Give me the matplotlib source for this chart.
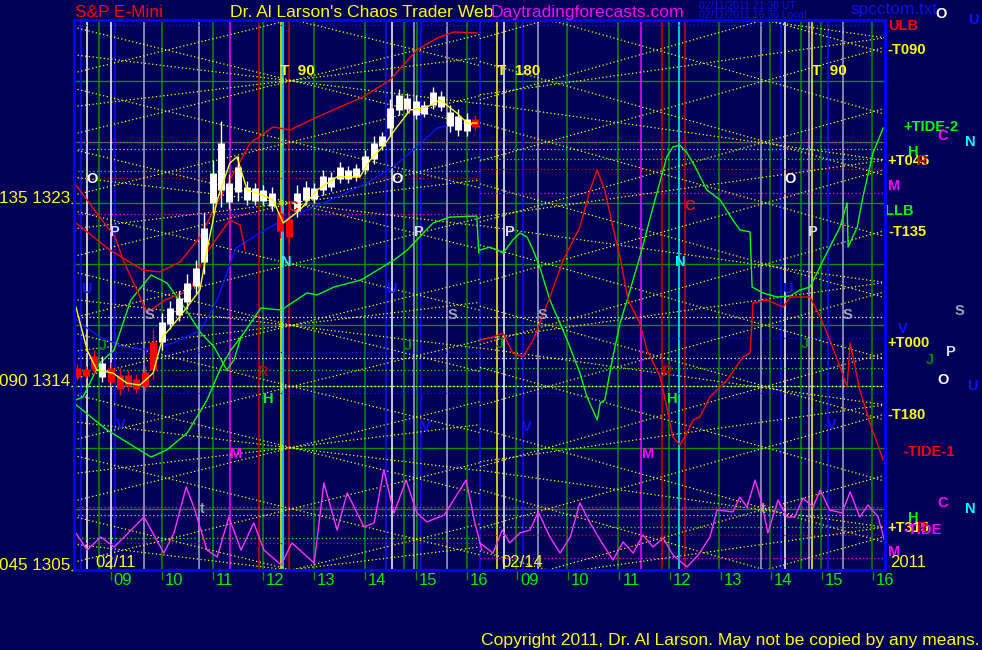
import matplotlib
matplotlib.use("Agg")
import matplotlib.pyplot as plt
from matplotlib.transforms import ScaledTranslation

BG = '#000058'
NARROW = ['Liberation Sans Narrow', 'Liberation Sans', 'DejaVu Sans']
REG = ['Liberation Sans', 'DejaVu Sans']

# time axis: hours from 09:00 on 02/11 (second session starts at 8 = 09:00 02/14)
day_start = [-0.73, 7.26]
day_end = [7.26, 15.24]
hour_ticks = list(range(16))
hour_labels = ['09', '10', '11', '12', '13', '14', '15', '16',
               '09', '10', '11', '12', '13', '14', '15', '16']
price_ticks = [1305, 1314, 1323]
price_labels = ['045 1305', '090 1314', '135 1323']

# 10 minute price bars, session of 02/11
bar_t = [-0.67, -0.50, -0.33, -0.17, 0.00, 0.17, 0.33, 0.50, 0.67, 0.83,
         1.00, 1.17, 1.33, 1.50, 1.67, 1.83, 2.00, 2.17, 2.33, 2.50,
         2.67, 2.83, 3.00, 3.17, 3.33, 3.50, 3.67, 3.83, 4.00, 4.17,
         4.33, 4.50, 4.67, 4.83, 5.00, 5.17, 5.33, 5.50, 5.67, 5.83,
         6.00, 6.17, 6.33, 6.50, 6.67, 6.83, 7.00, 7.17]
bar_hi = [1315.1, 1315.0, 1315.8, 1315.5, 1315.2, 1314.9, 1314.8, 1314.6, 1315.0, 1316.8,
          1317.6, 1318.2, 1318.7, 1319.5, 1320.2, 1322.5, 1325.1, 1327.0, 1324.4, 1325.3,
          1324.1, 1324.0, 1323.9, 1323.8, 1322.9, 1322.6, 1323.9, 1324.1, 1324.0, 1324.6,
          1324.5, 1325.0, 1324.8, 1324.9, 1325.6, 1326.3, 1326.5, 1328.1, 1328.6, 1328.4,
          1328.3, 1328.0, 1328.7, 1328.5, 1327.8, 1327.6, 1327.4, 1327.3]
bar_lo = [1314.3, 1314.4, 1314.6, 1314.2, 1314.0, 1313.6, 1313.8, 1313.7, 1313.8, 1314.3,
          1315.8, 1316.8, 1317.2, 1317.8, 1318.6, 1319.5, 1322.5, 1322.8, 1322.7, 1323.1,
          1322.9, 1322.9, 1322.9, 1322.6, 1321.3, 1321.0, 1322.3, 1322.9, 1323.0, 1323.4,
          1323.6, 1324.0, 1324.0, 1324.1, 1324.4, 1324.9, 1325.6, 1326.3, 1327.3, 1327.4,
          1327.1, 1327.2, 1327.6, 1327.5, 1326.5, 1326.3, 1326.3, 1326.6]
bar_up = [False, False, False, True, False, False, False, False, False, False,
          True, True, True, True, True, True, True, True, True, True,
          True, True, True, True, False, False, True, True, True, True,
          True, True, True, True, True, True, True, True, True, True,
          True, True, True, True, True, True, True, False]

# flux / tide curves
red1_t = [-0.69, -0.02, 0.63, 0.96, 1.36, 1.75, 2.09, 2.74, 3.19, 3.52, 4.06, 4.96,
          5.49, 6.02, 6.42, 6.75, 7.20]
red1_p = [1322.02, 1320.69, 1319.71, 1319.62, 1320.11, 1321.33, 1323.00, 1325.94, 1326.73,
          1326.58, 1327.22, 1328.20, 1329.03, 1330.50, 1331.09, 1331.39, 1331.34]
red2_t = [-0.69, -0.22, 0.08, 0.24, 0.51, 0.71, 1.06, 1.56, 1.85, 2.34, 2.54, 2.64]
red2_p = [1323.88, 1322.31, 1321.33, 1320.20, 1318.73, 1317.61, 1318.24, 1318.73, 1320.45,
          1322.17, 1321.92, 1320.69]
red3_t = [7.26, 7.52, 7.72, 7.91, 8.11, 8.31, 8.44, 8.64, 8.90, 9.23, 9.43, 9.57, 9.72,
          9.88, 10.02, 10.18, 10.28, 10.41, 10.55, 10.81, 10.94, 11.06, 11.20, 11.34, 11.46,
          11.59, 11.79, 12.13, 12.44, 12.58, 12.64, 12.91, 13.23, 13.37, 13.76, 13.96, 14.15,
          14.35, 14.49, 14.55, 14.74, 14.94, 15.20]
red3_p = [1316.28, 1316.43, 1316.62, 1315.64, 1315.45, 1316.28, 1317.11, 1318.39, 1320.20,
          1321.82, 1323.64, 1324.62, 1323.64, 1321.82, 1320.35, 1318.24, 1317.75, 1317.11,
          1315.79, 1314.47, 1313.00, 1311.52, 1311.13, 1311.72, 1312.36, 1312.50, 1313.49,
          1314.32, 1315.45, 1315.64, 1318.10, 1318.24, 1317.90, 1318.39, 1318.39, 1317.41,
          1316.28, 1314.96, 1313.98, 1316.13, 1313.83, 1312.21, 1310.40]

green1_t = [-0.69, -0.55, -0.22, 0.06, 0.39, 0.79, 1.10, 1.44, 1.77, 2.03, 2.28, 2.42, 2.56,
            2.95, 3.35, 3.86, 4.06, 4.39, 4.92, 5.31, 5.57, 5.83, 6.02, 6.34, 6.67, 7.20, 7.24]
green1_p = [1313.34, 1313.49, 1315.15, 1315.79, 1318.24, 1319.47, 1319.08, 1317.90, 1316.62,
            1315.94, 1314.81, 1315.30, 1316.43, 1317.85, 1317.75, 1318.59, 1318.49, 1318.88,
            1319.22, 1319.81, 1320.20, 1320.69, 1321.19, 1322.02, 1322.31, 1322.36, 1320.55]
green2_t = [-0.73, -0.08, 0.79, 1.10, 1.50, 1.89, 2.17, 2.36, 2.56]
green2_p = [1313.19, 1311.87, 1310.54, 1310.89, 1311.72, 1313.34, 1314.96, 1315.79, 1316.43]
green3_t = [7.26, 7.46, 7.72, 7.91, 8.05, 8.19, 8.31, 8.44, 8.64, 8.98, 9.23, 9.37, 9.57,
            9.63, 9.72, 9.88, 10.02, 10.16, 10.41, 10.67, 10.94, 11.06, 11.20, 11.34, 11.50,
            11.73, 11.99, 12.24, 12.38, 12.58, 12.62, 12.83, 13.11, 13.37, 13.56, 13.76, 14.09,
            14.35, 14.49, 14.51, 14.69, 14.80, 15.00, 15.20]
green3_p = [1320.69, 1320.84, 1320.55, 1321.19, 1321.53, 1321.33, 1320.69, 1319.86, 1318.24,
            1316.28, 1314.66, 1313.49, 1312.36, 1313.19, 1313.34, 1315.45, 1317.11, 1318.24,
            1320.35, 1322.80, 1325.26, 1325.75, 1325.84, 1325.45, 1324.77, 1323.64, 1323.15,
            1322.17, 1321.68, 1321.58, 1318.88, 1318.59, 1318.39, 1318.44, 1318.73, 1318.88,
            1320.55, 1321.82, 1323.00, 1320.84, 1321.82, 1323.29, 1325.45, 1326.68]

blue_t = [-0.69, -0.22, 0.24, 0.71, 1.22, 1.77, 2.09, 2.30, 2.46, 2.93, 3.39, 3.86, 4.45,
          5.04, 5.55, 6.02, 6.42, 6.81, 7.26]
blue_p = [1317.26, 1316.43, 1315.94, 1315.79, 1316.13, 1316.77, 1318.24, 1319.71, 1320.79,
          1321.53, 1322.17, 1322.66, 1323.29, 1323.98, 1324.77, 1325.75, 1326.68, 1326.92,
          1326.92]

yellow_t = [-0.69, -0.47, -0.28, 0.04, 0.31, 0.57, 0.83, 1.02, 1.30, 1.50, 1.75, 1.89, 2.09,
            2.34, 2.48, 2.68, 2.87, 3.19, 3.39, 3.72, 4.06, 4.45, 4.90, 5.10, 5.35, 5.63,
            5.89, 6.22, 6.48, 6.81, 7.01, 7.20]
yellow_p = [1317.90, 1315.79, 1314.81, 1314.66, 1314.17, 1314.07, 1314.66, 1316.43, 1317.26,
            1317.90, 1318.73, 1320.69, 1323.15, 1324.96, 1325.26, 1323.64, 1323.49, 1323.15,
            1322.02, 1322.66, 1323.64, 1324.28, 1324.28, 1325.11, 1325.75, 1326.73, 1327.56,
            1327.71, 1328.05, 1327.41, 1326.92, 1326.92]

mag1_t = [-0.73, -0.47, -0.20, 0.06, 0.26, 0.65, 1.04, 1.24, 1.48, 1.63, 1.89, 2.09, 2.32,
          2.56, 2.81, 3.01, 3.35, 3.56, 4.00, 4.19, 4.45, 4.65, 4.98, 5.18, 5.37, 5.57, 5.81,
          6.02, 6.22, 6.56, 6.99, 7.15, 7.30]
mag1_p = [1306.96, 1305.98, 1306.62, 1306.13, 1306.62, 1307.60, 1305.83, 1306.82, 1309.07,
          1308.09, 1305.98, 1305.64, 1307.60, 1305.98, 1307.31, 1305.98, 1305.25, 1306.33,
          1305.34, 1309.27, 1306.96, 1308.78, 1307.11, 1307.31, 1309.91, 1307.80, 1309.41,
          1307.80, 1307.36, 1307.70, 1309.41, 1307.45, 1305.98]
mag2_t = [7.26, 7.52, 7.70, 7.85, 8.05, 8.25, 8.41, 8.64, 8.84, 9.04, 9.23, 9.43, 9.63, 9.88,
          10.08, 10.28, 10.47, 10.67, 10.87, 11.06, 11.34, 11.56, 11.79, 11.93, 12.24, 12.38,
          12.52, 12.68, 12.81, 12.93, 13.13, 13.31, 13.46, 13.62, 13.82, 13.96, 14.15, 14.39,
          14.55, 14.74, 14.90, 15.10, 15.24]
mag2_p = [1306.33, 1305.83, 1306.96, 1306.33, 1306.82, 1306.96, 1307.85, 1306.62, 1305.83,
          1306.62, 1308.29, 1307.31, 1306.47, 1305.49, 1306.37, 1305.83, 1306.72, 1306.13,
          1306.57, 1305.74, 1305.15, 1305.74, 1306.62, 1307.94, 1307.85, 1308.58, 1308.09,
          1309.41, 1308.29, 1306.82, 1308.43, 1307.60, 1307.60, 1308.53, 1308.09, 1308.92,
          1307.94, 1307.80, 1308.83, 1307.60, 1308.19, 1307.60, 1306.33]

# vertical time lines
vl_t = [-0.59, -0.47, -0.24, 0.00, 0.08, 0.65, 1.00, 1.73, 2.00, 2.34, 2.91, 3.00, 3.35,
        3.39, 3.50, 4.00, 5.00, 5.41, 5.53, 5.77, 5.96, 6.02, 6.10, 6.61, 7.00, 7.26,
        7.60, 7.74, 7.97, 8.11, 8.41, 8.98, 9.98, 10.43, 10.85, 10.98, 11.18, 11.30, 11.97,
        12.80, 12.97, 13.19, 13.27, 13.58, 13.74, 13.80, 13.98, 14.11, 14.41, 14.98]
vl_c = ['b', 'w', 'g', 'w', 'b', 's', 'g', 's', 'g', 'm', 'r', 'g', 'y',
        'c', 'r', 'g', 'g', 'b', 'w', 'g', 's', 'g', 'b', 's', 'g', 'b',
        'y', 'w', 'g', 'b', 's', 'g', 'g', 'm', 'r', 'g', 'c', 'r', 'g',
        's', 'g', 'b', 'w', 'g', 's', 'y', 'g', 'b', 's', 'g']

# solid price grid and dotted levels
grid_p = [1308, 1311, 1314, 1317, 1320, 1323, 1326, 1329]
hl_p = [1331.75, 1331.95, 1326.00, 1325.65, 1324.55, 1324.25, 1322.46, 1325.15, 1324.67,
        1323.50, 1317.40, 1315.70, 1316.40, 1315.40, 1314.80, 1314.90, 1314.00, 1313.70,
        1308.07, 1307.68, 1306.55, 1306.30, 1307.10, 1306.70, 1305.60]
hl_c = ['b', 'w', 'm', 'c', 'l', 'r', 'm', 'l', 'r',
        'm', 'w', 'b', 'b', 'w', 'l', 'l', 'w', 'b',
        'm', 'c', 'l', 'r', 'l', 'r', 'm']
hl_day = [0, 2, 0, 0, 1, 1, 1, 2, 2, 2, 0, 1, 2, 0, 1, 2, 0, 0, 0, 0, 1, 1, 2, 2, 2]

# time-wave lattice: crossing levels, crossing time and slope (points / hour)
latA1_nodes = [1300.5, 1303.5, 1306.5, 1309.5, 1312.5, 1315.5, 1318.5, 1321.5, 1324.5,
               1327.5, 1330.5, 1333.5, 1336.5]
latB1_nodes = [1299.0, 1305.0, 1311.0, 1317.0, 1323.0, 1329.0, 1335.0]
latA2_nodes = [1299.0, 1302.0, 1305.0, 1308.0, 1311.0, 1314.0, 1317.0, 1320.0, 1323.0,
               1326.0, 1329.0, 1332.0, 1335.0, 1338.0]
latB2_nodes = [1301.1, 1307.1, 1313.1, 1319.1, 1325.1, 1331.1, 1337.1]
lat_node_t = [1.1, 3.5, 8.6, 15.24]
lat_slope = [0.61, 0.30, 0.70, 0.35]

# planet / event letters inside the chart
lab_t = [-0.37, 5.63, 13.37, 0.08, 6.06, 7.85, 13.82, 0.75, 6.73, 8.50, 14.50,
         -0.16, 5.85, 7.66, 13.66, -0.49, 5.51, 13.31, 0.20, 6.20, 8.19, 14.19,
         3.46, 11.20, 3.58, 11.40, 3.00, 10.94, 3.09, 11.04, 2.46, 10.57, 1.79, 12.83]
lab_p = [1324.2, 1324.2, 1324.2, 1321.6, 1321.6, 1321.6, 1321.6, 1317.5, 1317.5, 1317.5, 1317.5,
         1316.0, 1316.0, 1316.1, 1316.1, 1318.8, 1318.8, 1318.8, 1312.1, 1312.0, 1312.0, 1312.1,
         1320.1, 1320.1, 1322.8, 1322.85, 1314.7, 1314.7, 1313.4, 1313.4, 1310.7, 1310.7,
         1308.0, 1308.0]
lab_txt = ['O', 'O', 'O', 'P', 'P', 'P', 'P', 'S', 'S', 'S', 'S',
           'J', 'J', 'J', 'J', 'U', 'U', 'U', 'V', 'V', 'V', 'V',
           'N', 'N', 'C', 'C', 'R', 'R', 'H', 'H', 'M', 'M', 't', 't']

# labels to the right of the chart
rl_txt = ['ULB', '-T090', '+TIDE-2', 'C', 'N', 'H', '+T045', 'R', 'M', 'LLB', '-T135',
          'S', 'V', '+T000', 'P', 'J', 'O', 'U', '-T180', '-TIDE-1', 'C', 'N', 'H',
          '+T315', '-TIDE', 'R', 'M']
rl_t = [15.30, 15.28, 15.59, 16.26, 16.81, 15.69, 15.28, 15.87, 15.30, 15.24, 15.30,
        16.61, 15.49, 15.28, 16.44, 16.04, 16.26, 16.86, 15.28, 15.59, 16.26, 16.81, 15.69,
        15.28, 15.59, 15.87, 15.30]
rl_p = [1331.7, 1330.5, 1326.75, 1326.3, 1326.0, 1325.5, 1325.05, 1325.05, 1323.85, 1322.6,
        1321.6, 1317.7, 1316.8, 1316.15, 1315.7, 1315.3, 1314.3, 1314.0, 1312.6, 1310.8,
        1308.3, 1308.0, 1307.55, 1307.05, 1306.95, 1307.05, 1305.9]

COL = {'b': '#1010ff', 'w': '#ffffff', 'g': '#009000', 's': '#a8a8c8', 'm': '#ff00ff',
       'r': '#d00000', 'y': '#ffff00', 'c': '#00ffff', 'l': '#00ff00'}
LETTER_COL = {'O': '#ffffff', 'P': '#d8d8ff', 'S': '#a0a0b8', 'J': '#008800', 'U': '#1010ff',
              'V': '#1010ff', 'N': '#00ffff', 'C': '#ff0000', 'R': '#c00000', 'H': '#00ff00',
              'M': '#ff00ff', 't': '#a0a0a0'}
RIGHT_COL = {'ULB': '#ff0000', '+TIDE-2': '#00ff00', 'C': '#ff00ff', 'N': '#00ffff',
             'H': '#00ff00', 'R': '#c00000', 'M': '#ff00ff', 'LLB': '#00ff00', 'S': '#a0a0b8',
             'V': '#1010ff', 'P': '#d8d8ff', 'J': '#008800', 'O': '#ffffff', 'U': '#1010ff',
             '-TIDE-1': '#ff0000', '-TIDE': '#ff00ff'}

fig = plt.figure(figsize=(9.82, 6.5), dpi=100, facecolor=BG)
ax = fig.add_axes([74 / 982, 80 / 650, 811 / 982, 550 / 650], facecolor=BG)
ax.set_xlim(-0.728, 15.236)
ax.set_ylim(1305.0, 1331.975)

for p in grid_p:
    ax.axhline(p, color=COL['g'], lw=1.0, zorder=1)
for t, c in zip(vl_t, vl_c):
    ax.axvline(t, color=COL[c], lw=1.1, zorder=2)

for p, c, d in zip(hl_p, hl_c, hl_day):
    t0 = day_start[0] if d in (0, 1) else day_start[1]
    t1 = day_end[1] if d in (0, 2) else day_end[0]
    ax.plot([t0, t1], [p, p], color=COL[c], lw=0.9, ls=(0, (1, 2)), zorder=3)

# yellow time-wave lattice
families = [(0, latA1_nodes), (0, latB1_nodes), (1, latA2_nodes), (1, latB2_nodes)]
for k, (d, nodes) in enumerate(families):
    t0, t1 = day_start[d], day_end[d]
    tn, s = lat_node_t[k], lat_slope[k]
    for p in nodes:
        for sg in (1, -1):
            ax.plot([t0, t1], [p + sg * s * (t0 - tn), p + sg * s * (t1 - tn)],
                    color='#ffff00', lw=0.9, ls=(0, (1, 2)), zorder=3.5)

ax.plot(mag1_t, mag1_p, color='#ff33ff', lw=1.0, zorder=5)
ax.plot(mag2_t, mag2_p, color='#ff33ff', lw=1.0, zorder=5)
ax.plot(blue_t, blue_p, color='#1010ff', lw=1.0, zorder=5)
ax.plot(green1_t, green1_p, color='#00ff00', lw=1.0, zorder=5)
ax.plot(green2_t, green2_p, color='#00ff00', lw=1.0, zorder=5)
ax.plot(green3_t, green3_p, color='#00ff00', lw=1.0, zorder=5)
ax.plot(red1_t, red1_p, color='#ff0000', lw=1.0, zorder=5)
ax.plot(red2_t, red2_p, color='#ff0000', lw=1.0, zorder=5)
ax.plot(red3_t, red3_p, color='#ff0000', lw=1.0, zorder=5)

# price bars
for t, hi, lo, up in zip(bar_t, bar_hi, bar_lo, bar_up):
    c = '#ffffff' if up else '#ff0000'
    rng = hi - lo
    ax.vlines(t, lo, hi, color=c, lw=1.0, zorder=6)
    ax.vlines(t, lo + 0.2 * rng, hi - 0.25 * rng, color=c, lw=5.0, zorder=6)
ax.plot(yellow_t, yellow_p, color='#ffff00', lw=1.0, zorder=6.5)

for t, p, s in zip(lab_t, lab_p, lab_txt):
    ax.text(t, p, s, color=LETTER_COL[s], fontsize=10.5, fontweight='bold', family=NARROW,
            ha='center', va='center', zorder=7)

for t, txt in zip([3.33, 7.6, 13.8], ['T  90', 'T  180', 'T  90']):
    ax.text(t, 1329.28, txt, color='#ffff00', fontsize=11, fontweight='bold', family=NARROW,
            ha='left', va='baseline', zorder=7)

for s, t, p in zip(rl_txt, rl_t, rl_p):
    ax.text(t, p, s, color=RIGHT_COL.get(s, '#ffff00'), fontsize=10.5, fontweight='bold',
            family=NARROW, ha='left', va='center', clip_on=False, zorder=8)

for t, txt in zip([-0.30, 7.68, 15.33], ['02/11', '02/14', '2011']):
    ax.text(t, 1305.15, txt, color='#ffff00', fontsize=12, family=NARROW,
            ha='left', va='baseline', clip_on=False, zorder=8)

# axes, ticks and frame
ax.set_xticks(hour_ticks, hour_labels)
ax.tick_params(axis='x', colors='#009000', labelcolor='#00ee00', length=7, width=1,
               pad=-5.0, labelsize=12)
for lab in ax.get_xticklabels():
    lab.set_family(NARROW)
    lab.set_transform(lab.get_transform() + ScaledTranslation(0.12, 0, fig.dpi_scale_trans))
ax.set_yticks(price_ticks, price_labels)
ax.tick_params(axis='y', colors='#ffff00', labelcolor='#ffff00', length=2.5, width=1,
               pad=0.5, labelsize=12.3)
for lab in ax.get_yticklabels():
    lab.set_family(NARROW)
    lab.set_va('baseline')
for sp in ax.spines.values():
    sp.set_color('#0000ff')
    sp.set_linewidth(2.2)
    sp.set_zorder(9)

# header and footer
fig.text(75 / 982, 1 - 17 / 650, 'S&P E-Mini', color='#ff0000', fontsize=12.4, family=REG)
fig.text(230 / 982, 1 - 17 / 650, "Dr. Al Larson's Chaos Trader Web", color='#ffff00',
         fontsize=12.6, family=REG)
fig.text(491 / 982, 1 - 17 / 650, 'Daytradingforecasts.com', color='#ff00ff',
         fontsize=12.6, family=REG)
fig.text(699 / 982, 1 - 9 / 650, '02/11/2011 21:30 UT', color='#1010e0', fontsize=7.5,
         family=REG)
fig.text(699 / 982, 1 - 17.5 / 650, '02/11/2011 16:30 Local', color='#1010e0', fontsize=7.5,
         family=REG)
fig.text(850 / 982, 1 - 14 / 650, 'spcctom.txt', color='#1010e0', fontsize=12.4, family=REG)
fig.text(935 / 982, 1 - 18 / 650, 'O', color='#ffffff', fontsize=10.5, fontweight='bold',
         family=NARROW)
fig.text(968 / 982, 1 - 24 / 650, 'U', color='#1010ff', fontsize=10.5, fontweight='bold',
         family=NARROW)
fig.text(481 / 982, 1 - 645 / 650, 'Copyright 2011, Dr. Al Larson. May not be copied by any means.',
         color='#ffff00', fontsize=12.6, family=REG)

fig.savefig('out.png', dpi=100, facecolor=BG)
